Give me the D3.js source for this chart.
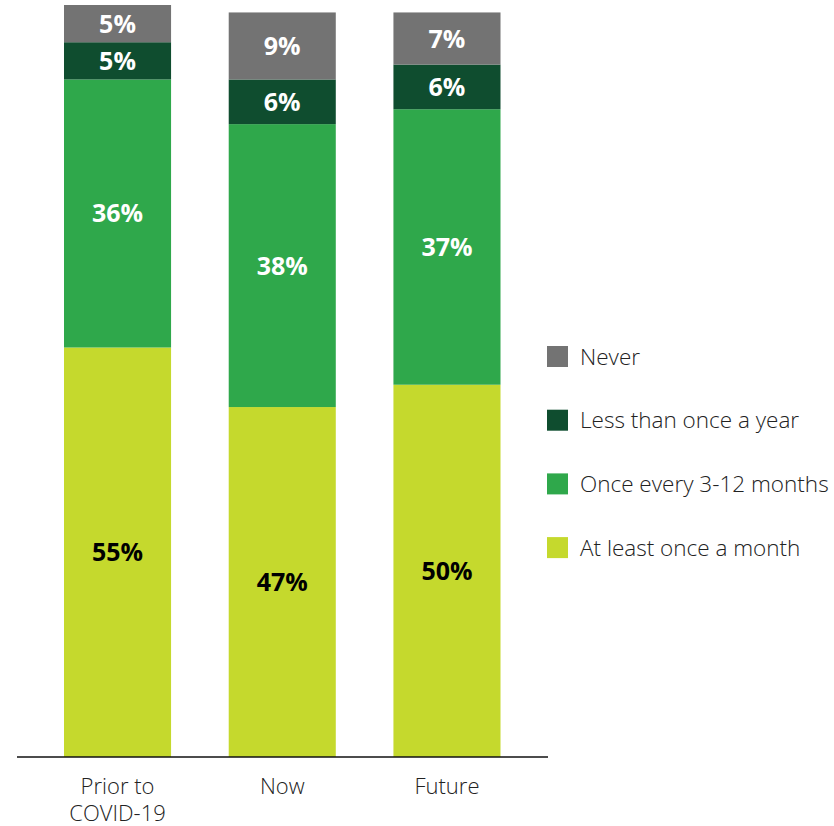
<!DOCTYPE html>
<html>
<head>
<meta charset="utf-8">
<script src="https://cdn.jsdelivr.net/npm/d3@7"></script>
<style>
  html, body { margin: 0; padding: 0; background: #fff; }
  svg { display: block; font-family: "Open Sans", "Noto Sans", sans-serif; }
</style>
</head>
<body>
<svg id="chart" width="834" height="826"></svg>
<script>
// Periods on the x axis (label lines)
const categories = ["Prior to COVID-19", "Now", "Future"];
const categoryLines = [["Prior to", "COVID-19"], ["Now"], ["Future"]];

// Series, stacked bottom to top
const seriesNames = ["At least once a month", "Once every 3-12 months", "Less than once a year", "Never"];
const atLeastMonthly = [55, 47, 50];
const every3to12 = [36, 38, 37];
const lessThanYearly = [5, 6, 6];
const never = [5, 9, 7];
const seriesValues = [atLeastMonthly, every3to12, lessThanYearly, never];

const colors = ["#c5d92d", "#2fa84b", "#0f4d2f", "#737373"];
const labelColors = ["#000", "#fff", "#fff", "#fff"];

const svg = d3.select("#chart");

const baseline = 757;
const x = d3.scaleBand().domain(categories).range([64, 500.5]).paddingInner(0.35).paddingOuter(0);
const y = d3.scaleLinear().domain([0, 101]).range([baseline, 5]);

const rows = categories.map((c, i) => {
  const r = { category: c };
  seriesNames.forEach((s, j) => r[s] = seriesValues[j][i]);
  return r;
});
const stacked = d3.stack().keys(seriesNames)(rows);

const g = svg.append("g");

const layers = g.selectAll("g.layer").data(stacked).join("g").attr("class", "layer");
layers.selectAll("rect")
  .data((d, j) => d.map(p => ({ p, j })))
  .join("rect")
  .attr("x", d => x(d.p.data.category))
  .attr("width", x.bandwidth())
  .attr("y", d => y(d.p[1]))
  .attr("height", d => y(d.p[0]) - y(d.p[1]))
  .attr("fill", d => colors[d.j]);

layers.selectAll("text")
  .data((d, j) => d.map(p => ({ p, j, key: d.key })))
  .join("text")
  .attr("x", d => x(d.p.data.category) + x.bandwidth() / 2)
  .attr("y", d => (y(d.p[0]) + y(d.p[1])) / 2)
  .attr("dy", "0.36em")
  .attr("text-anchor", "middle")
  .attr("font-size", 25)
  .attr("font-weight", 700)
  .attr("fill", d => labelColors[d.j])
  .text(d => d.p.data[d.key] + "%");

// Baseline axis
g.append("line")
  .attr("x1", 17).attr("x2", 548)
  .attr("y1", baseline).attr("y2", baseline)
  .attr("stroke", "#111").attr("stroke-width", 1.3);

// Category labels
categories.forEach((c, i) => {
  const cx = x(c) + x.bandwidth() / 2;
  const t = g.append("text")
    .attr("x", cx)
    .attr("y", 794)
    .attr("text-anchor", "middle")
    .attr("font-size", 22)
    .attr("font-weight", 300)
    .attr("fill", "#222");
  categoryLines[i].forEach((line, k) => {
    t.append("tspan")
      .attr("x", cx)
      .attr("dy", k === 0 ? 0 : 27)
      .text(line);
  });
});

// Legend, top entry is the top of the stack
const legendOrder = seriesNames.map((s, j) => ({ s, j })).reverse();
const legend = svg.append("g").attr("transform", "translate(547,346)");
const items = legend.selectAll("g").data(legendOrder).join("g")
  .attr("transform", (d, i) => `translate(0,${i * 63.7})`);
items.append("rect").attr("width", 21).attr("height", 21).attr("fill", d => colors[d.j]);
items.append("text")
  .attr("x", 33).attr("y", 10.5).attr("dy", "0.36em")
  .attr("font-size", 22.5)
  .attr("font-weight", 300)
  .attr("fill", "#222")
  .text(d => d.s);
</script>
</body>
</html>
